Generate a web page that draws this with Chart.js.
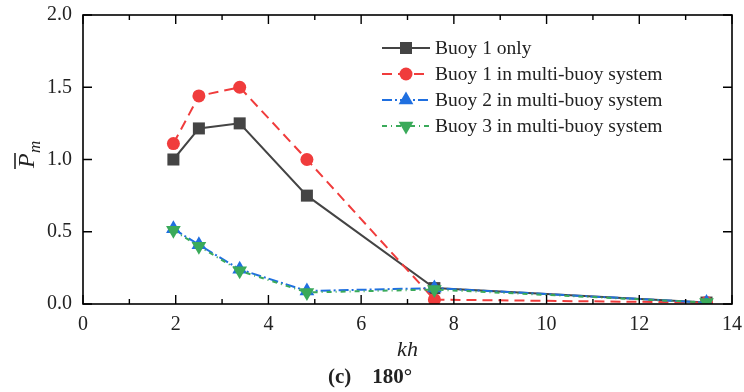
<!DOCTYPE html>
<html><head><meta charset="utf-8">
<script src="https://cdn.jsdelivr.net/npm/chart.js@4/dist/chart.umd.min.js"></script>
<style>html,body{margin:0;padding:0;background:#fff}#wrap{width:744px;height:392px}</style>
</head><body><div id="wrap"><canvas id="c" width="744" height="392"></canvas></div>
<script>
const kh = [1.95, 2.5, 3.38, 4.83, 7.58, 13.45];
const buoy1Only = [1.0, 1.215, 1.25, 0.75, 0.11, 0.01];
const buoy1Multi = [1.11, 1.44, 1.50, 1.0, 0.03, 0.01];
const buoy2Multi = [0.52, 0.41, 0.24, 0.09, 0.11, 0.01];
const buoy3Multi = [0.51, 0.40, 0.23, 0.08, 0.10, 0.01];
const seriesNames = ["Buoy 1 only", "Buoy 1 in multi-buoy system", "Buoy 2 in multi-buoy system", "Buoy 3 in multi-buoy system"];
const xTicks = [0, 2, 4, 6, 8, 10, 12, 14];
const yTicks = [0.0, 0.5, 1.0, 1.5, 2.0];

const colors = ["#444444", "#f03c3c", "#1f6fe0", "#3aaa5a"];
const dashes = [[], [10, 6], [10, 3, 2, 3], [5, 4, 1, 4]];
const styles = ["rect", "circle", "triangle", "triangle"];
const rots = [0, 0, 0, 180];
const radii = [8.5, 6.5, 8.5, 8.5];
const vals = [buoy1Only, buoy1Multi, buoy2Multi, buoy3Multi];

const datasets = vals.map((v, i) => ({
  label: seriesNames[i],
  data: v.map((y, j) => ({x: kh[j], y: y})),
  borderColor: colors[i], backgroundColor: colors[i],
  borderWidth: 2, borderDash: dashes[i],
  pointStyle: styles[i], pointRotation: rots[i], pointRadius: radii[i],
  pointBorderWidth: 0, tension: 0, order: 4 - i
}));

const FONT = "'Liberation Serif', 'Times New Roman', serif";

const deco = {
  id: 'deco',
  afterDraw(chart) {
    const ctx = chart.ctx, a = chart.chartArea, xs = chart.scales.x, ys = chart.scales.y;
    ctx.save();
    ctx.strokeStyle = "#000"; ctx.lineWidth = 1.6; ctx.setLineDash([]);
    ctx.strokeRect(a.left, a.top, a.right - a.left, a.bottom - a.top);
    ctx.lineWidth = 1.4;
    for (let v = 0; v <= 14; v += 1) {
      const px = xs.getPixelForValue(v), L = v % 2 === 0 ? 9 : 5;
      ctx.beginPath();
      ctx.moveTo(px, a.bottom); ctx.lineTo(px, a.bottom - L);
      ctx.moveTo(px, a.top); ctx.lineTo(px, a.top + L);
      ctx.stroke();
    }
    for (const v of yTicks) {
      const py = ys.getPixelForValue(v), L = 9;
      ctx.beginPath();
      ctx.moveTo(a.left, py); ctx.lineTo(a.left + L, py);
      ctx.moveTo(a.right, py); ctx.lineTo(a.right - L, py);
      ctx.stroke();
    }
    // axis titles
    ctx.fillStyle = "#222";
    ctx.textAlign = "center"; ctx.textBaseline = "middle";
    ctx.font = "italic 22px " + FONT;
    ctx.fillText("kh", (a.left + a.right) / 2, 350);
    ctx.font = "bold 21px " + FONT;
    ctx.fillText("(c)    180°", 370, 378);
    // y title
    ctx.save();
    ctx.translate(34, 158); ctx.rotate(-Math.PI / 2);
    ctx.font = "italic 24px " + FONT; ctx.textAlign = "left"; ctx.textBaseline = "alphabetic";
    ctx.fillText("P", -10, 0);
    ctx.font = "italic 17px " + FONT;
    ctx.fillText("m", 5, 6);
    ctx.strokeStyle = "#222"; ctx.lineWidth = 1.6;
    ctx.beginPath(); ctx.moveTo(-11, -19); ctx.lineTo(5, -19); ctx.stroke();
    ctx.restore();
    // legend
    ctx.font = "19.5px " + FONT; ctx.textAlign = "left"; ctx.textBaseline = "middle";
    for (let i = 0; i < 4; i++) {
      const y = 48 + i * 26;
      ctx.strokeStyle = colors[i]; ctx.lineWidth = 2; ctx.setLineDash(dashes[i]);
      ctx.beginPath(); ctx.moveTo(382, y); ctx.lineTo(430, y); ctx.stroke();
      ctx.setLineDash([]);
      ctx.fillStyle = colors[i];
      Chart.helpers.drawPoint(ctx, {pointStyle: styles[i], rotation: rots[i], radius: radii[i], borderWidth: 0}, 406, y);
      ctx.fillStyle = "#222";
      ctx.fillText(seriesNames[i], 435, y + 1);
    }
    ctx.restore();
  }
};

new Chart(document.getElementById('c'), {
  type: 'line',
  data: {datasets},
  options: {
    responsive: false, animation: false, devicePixelRatio: 1,
    layout: {padding: {left: 0, right: 12, top: 15, bottom: 0}},
    plugins: {legend: {display: false}, tooltip: {enabled: false}},
    scales: {
      x: {
        type: 'linear', min: 0, max: 14,
        afterFit(s) { s.height = 88; s.paddingLeft = 0; s.paddingRight = 0; },
        afterBuildTicks(s) { s.ticks = xTicks.map(v => ({value: v})); },
        grid: {display: false, drawTicks: false}, border: {display: false},
        ticks: {color: "#222", font: {family: FONT, size: 20}, padding: 9, maxRotation: 0}
      },
      y: {
        type: 'linear', min: 0, max: 2,
        afterFit(s) { s.width = 83; s.paddingTop = 0; s.paddingBottom = 0; },
        afterBuildTicks(s) { s.ticks = yTicks.map(v => ({value: v})); },
        grid: {display: false, drawTicks: false}, border: {display: false},
        ticks: {color: "#222", font: {family: FONT, size: 20}, padding: 11, callback: v => v.toFixed(1)}
      }
    }
  },
  plugins: [deco]
});
</script></body></html>
